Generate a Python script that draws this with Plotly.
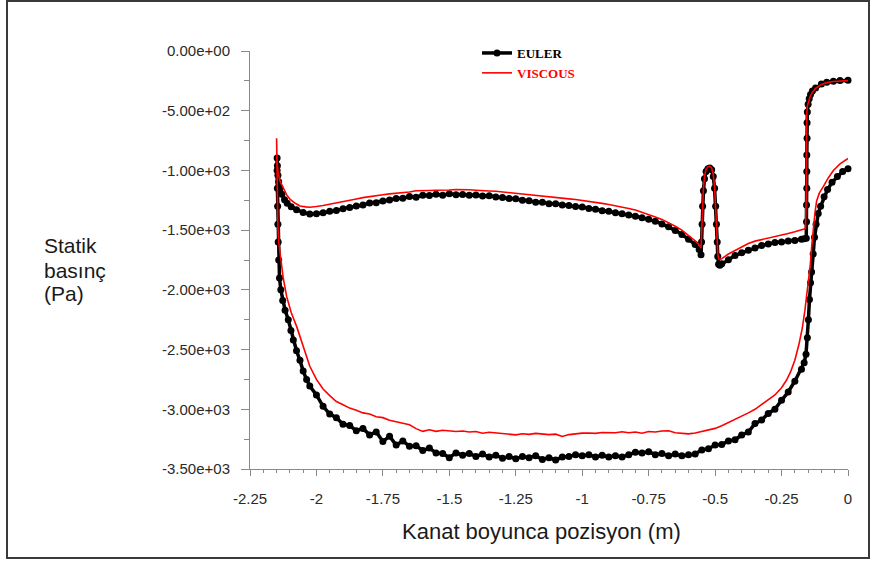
import plotly.graph_objects as go

# ---- axis ticks ----
x_tick_vals = [-2.25, -2.0, -1.75, -1.5, -1.25, -1.0, -0.75, -0.5, -0.25, 0.0]
x_tick_labels = ["-2.25", "-2", "-1.75", "-1.5", "-1.25", "-1", "-0.75", "-0.5", "-0.25", "0"]
y_tick_vals = [0, -500, -1000, -1500, -2000, -2500, -3000, -3500]
y_tick_labels = ["0.00e+00", "-5.00e+02", "-1.00e+03", "-1.50e+03",
                 "-2.00e+03", "-2.50e+03", "-3.00e+03", "-3.50e+03"]

# ---- EULER, upper surface (leading edge -> trailing edge) ----
euler_upper_x = [
    -2.148, -2.147, -2.145, -2.142, -2.137, -2.130, -2.120, -2.110, -2.095, -2.075, -2.050, -2.025,
    -2.000, -1.975, -1.950, -1.925, -1.900, -1.875, -1.850, -1.825, -1.800, -1.775,
    -1.750, -1.725, -1.700, -1.675, -1.650, -1.625, -1.600, -1.575, -1.550, -1.525,
    -1.500, -1.475, -1.450, -1.425, -1.400, -1.375, -1.350, -1.325, -1.300, -1.275,
    -1.250, -1.225, -1.200, -1.175, -1.150, -1.125, -1.100, -1.075, -1.050, -1.025,
    -1.000, -0.975, -0.950, -0.925, -0.900, -0.875, -0.850, -0.825, -0.800, -0.775,
    -0.750, -0.725, -0.700, -0.675, -0.650, -0.625, -0.600, -0.575,
    -0.560, -0.553, -0.551, -0.549, -0.547, -0.544, -0.540, -0.534, -0.527, -0.520,
    -0.513, -0.507, -0.502, -0.498, -0.495, -0.492, -0.490, -0.487, -0.482,
    -0.475, -0.450, -0.425, -0.400, -0.375, -0.350, -0.325, -0.300, -0.275, -0.250,
    -0.225, -0.200, -0.175, -0.165, -0.157,
    -0.156, -0.156, -0.155, -0.155, -0.155, -0.154, -0.154, -0.153, -0.150, -0.146,
    -0.141, -0.134, -0.122, -0.100, -0.080, -0.055, -0.030, 0.000,
]
euler_upper_y = [
    -896, -960, -1040, -1095, -1150, -1200, -1245, -1275, -1305, -1330, -1352, -1365,
    -1362, -1354, -1342, -1336, -1320, -1311, -1298, -1290, -1272, -1270,
    -1256, -1248, -1236, -1234, -1218, -1224, -1208, -1210, -1200, -1208,
    -1196, -1204, -1202, -1208, -1206, -1214, -1212, -1222, -1226, -1236,
    -1238, -1250, -1254, -1266, -1266, -1278, -1280, -1290, -1294, -1303,
    -1306, -1318, -1326, -1338, -1342, -1354, -1362, -1374, -1384, -1396,
    -1408, -1426, -1448, -1472, -1502, -1536, -1576, -1620,
    -1662, -1705, -1600, -1450, -1300, -1170, -1070, -1010, -985, -980,
    -995, -1050, -1150, -1300, -1450, -1600, -1720, -1785, -1795,
    -1782, -1748, -1712, -1690, -1668, -1650, -1628, -1616, -1604, -1600,
    -1590, -1586, -1576, -1572, -1568,
    -1430, -1290, -1150, -1010, -870, -730, -600, -510, -445, -400,
    -365, -335, -310, -277, -262, -253, -248, -244,
]

# ---- EULER, lower surface (leading edge -> trailing edge) ----
euler_lower_x = [
    -2.148, -2.148, -2.147, -2.146, -2.145, -2.144, -2.142, -2.139, -2.134, -2.127,
    -2.118, -2.106, -2.096, -2.087, -2.075, -2.062, -2.050, -2.037,
    -2.025, -2.000, -1.975, -1.950, -1.925, -1.900, -1.875, -1.850, -1.825, -1.800,
    -1.775, -1.750, -1.725, -1.700, -1.675, -1.650, -1.625, -1.600, -1.575, -1.550,
    -1.525, -1.500, -1.475, -1.450, -1.425, -1.400, -1.375, -1.350, -1.325, -1.300,
    -1.275, -1.250, -1.225, -1.200, -1.175, -1.150, -1.125, -1.100, -1.075, -1.050,
    -1.025, -1.000, -0.975, -0.950, -0.925, -0.900, -0.875, -0.850, -0.825, -0.800,
    -0.775, -0.750, -0.725, -0.700, -0.675, -0.650, -0.625, -0.600, -0.575, -0.550,
    -0.525, -0.500, -0.475, -0.450, -0.425, -0.400, -0.375, -0.350, -0.325, -0.300,
    -0.275, -0.250, -0.225, -0.200, -0.175,
    -0.165, -0.158, -0.153, -0.149, -0.145, -0.141, -0.137, -0.131, -0.126, -0.120,
    -0.112, -0.103, -0.090, -0.077, -0.060, -0.040, -0.020, 0.000,
]
euler_lower_y = [
    -896, -1000, -1150, -1300, -1450, -1600, -1750, -1900, -2000, -2090,
    -2170, -2250, -2340, -2420, -2510, -2590, -2680, -2750,
    -2805, -2880, -2975, -3040, -3070, -3125, -3135, -3180, -3160, -3215,
    -3190, -3270, -3225, -3300, -3265, -3310, -3305, -3345, -3325, -3365,
    -3370, -3405, -3365, -3385, -3370, -3395, -3375, -3400, -3385, -3410,
    -3395, -3415, -3395, -3405, -3390, -3420, -3405, -3425, -3400, -3395,
    -3380, -3390, -3380, -3400, -3385, -3400, -3390, -3400, -3380, -3360,
    -3365, -3355, -3380, -3370, -3390, -3375, -3390, -3380, -3375, -3340,
    -3330, -3300, -3295, -3265, -3255, -3215, -3190, -3120, -3090, -3035,
    -3000, -2925, -2855, -2765, -2665,
    -2610, -2540, -2400, -2250, -2080, -1940, -1850, -1700, -1560, -1450,
    -1360, -1300, -1220, -1160, -1100, -1050, -1010, -985,
]

# ---- VISCOUS, upper surface ----
viscous_upper_x = [
    -2.150, -2.149, -2.147, -2.143, -2.137, -2.125, -2.112, -2.100, -2.080, -2.062, -2.040, -2.025,
    -2.000, -1.975, -1.950, -1.925, -1.900, -1.875, -1.850, -1.825, -1.800, -1.775,
    -1.750, -1.725, -1.700, -1.675, -1.650, -1.625, -1.600, -1.575, -1.550, -1.525,
    -1.500, -1.475, -1.450, -1.425, -1.400, -1.375, -1.350, -1.325, -1.300, -1.275,
    -1.250, -1.225, -1.200, -1.175, -1.150, -1.125, -1.100, -1.075, -1.050, -1.025,
    -1.000, -0.975, -0.950, -0.925, -0.900, -0.875, -0.850, -0.825, -0.800, -0.775,
    -0.750, -0.725, -0.700, -0.675, -0.650, -0.625, -0.600, -0.575,
    -0.560, -0.553, -0.551, -0.549, -0.547, -0.544, -0.540, -0.534, -0.527, -0.520,
    -0.513, -0.507, -0.502, -0.498, -0.495, -0.492, -0.490, -0.487, -0.480,
    -0.475, -0.450, -0.425, -0.400, -0.375, -0.350, -0.325, -0.300, -0.275, -0.250,
    -0.225, -0.200, -0.175, -0.165, -0.160,
    -0.158, -0.157, -0.157, -0.156, -0.155, -0.153, -0.149, -0.143, -0.134, -0.122,
    -0.100, -0.080, -0.055, -0.030, 0.000,
]
viscous_upper_y = [
    -731, -850, -960, -1030, -1090, -1150, -1205, -1240, -1275, -1298, -1305, -1308,
    -1302, -1294, -1285, -1276, -1264, -1252, -1240, -1228, -1216, -1210,
    -1203, -1196, -1190, -1184, -1181, -1170, -1172, -1168, -1166, -1162,
    -1164, -1160, -1158, -1162, -1166, -1166, -1172, -1174, -1177, -1186,
    -1192, -1198, -1204, -1210, -1215, -1224, -1226, -1232, -1238, -1244,
    -1250, -1255, -1268, -1276, -1285, -1294, -1305, -1318, -1332, -1350,
    -1370, -1390, -1410, -1436, -1468, -1500, -1545, -1590,
    -1625, -1650, -1560, -1420, -1280, -1150, -1050, -990, -968, -965,
    -980, -1035, -1140, -1290, -1440, -1590, -1700, -1740, -1745,
    -1738, -1700, -1668, -1640, -1612, -1592, -1578, -1565, -1550, -1540,
    -1528, -1514, -1498, -1490, -1484,
    -1470, -1200, -900, -650, -530, -460, -420, -385, -345, -312,
    -280, -265, -256, -251, -248,
]

# ---- VISCOUS, lower surface ----
viscous_lower_x = [
    -2.150, -2.149, -2.148, -2.147, -2.145, -2.141, -2.137, -2.125, -2.112, -2.095, -2.074, -2.050,
    -2.025, -2.000, -1.975, -1.950, -1.925, -1.900, -1.875, -1.850, -1.825, -1.800,
    -1.775, -1.750, -1.725, -1.700, -1.675, -1.650, -1.625, -1.600, -1.575, -1.550,
    -1.525, -1.500, -1.475, -1.450, -1.425, -1.400, -1.375, -1.350, -1.325, -1.300,
    -1.275, -1.250, -1.225, -1.200, -1.175, -1.150, -1.125, -1.100, -1.075, -1.050,
    -1.025, -1.000, -0.975, -0.950, -0.925, -0.900, -0.875, -0.850, -0.825, -0.800,
    -0.775, -0.750, -0.725, -0.700, -0.675, -0.650, -0.625, -0.600, -0.575, -0.550,
    -0.525, -0.500, -0.475, -0.450, -0.425, -0.400, -0.375, -0.350, -0.325, -0.300,
    -0.275, -0.250,
    -0.231, -0.215, -0.200, -0.185, -0.172, -0.162, -0.155, -0.148, -0.142, -0.136,
    -0.130, -0.124, -0.118, -0.108, -0.093, -0.075, -0.055, -0.030, 0.000,
]
viscous_lower_y = [
    -731, -900, -1100, -1300, -1480, -1620, -1700, -1900, -2057, -2190, -2310, -2480,
    -2640, -2750, -2830, -2885, -2935, -2962, -2990, -3008, -3030, -3040,
    -3062, -3070, -3092, -3105, -3118, -3130, -3162, -3185, -3172, -3185,
    -3176, -3180, -3186, -3182, -3190, -3186, -3200, -3192, -3198, -3205,
    -3210, -3214, -3205, -3210, -3202, -3206, -3212, -3208, -3228, -3212,
    -3204, -3200, -3198, -3202, -3195, -3198, -3196, -3188, -3196, -3190,
    -3200, -3186, -3190, -3182, -3180, -3196, -3204, -3206, -3198, -3186,
    -3172, -3160, -3138, -3112, -3085, -3060, -3030, -3000, -2960, -2925,
    -2880, -2820,
    -2755, -2680, -2590, -2460, -2320, -2170, -2040, -1920, -1790, -1620,
    -1470, -1350, -1255, -1190, -1136, -1065, -1000, -945, -900,
]

# each surface is traced as one closed path: trailing edge (upper) -> leading edge -> trailing edge (lower)
euler_x = euler_upper_x[::-1] + euler_lower_x[1:]
euler_y = euler_upper_y[::-1] + euler_lower_y[1:]
viscous_x = viscous_upper_x[::-1] + viscous_lower_x[1:]
viscous_y = viscous_upper_y[::-1] + viscous_lower_y[1:]

fig = go.Figure()
fig.add_trace(go.Scatter(
    x=euler_x, y=euler_y, mode="lines+markers", name="<b>EULER</b>",
    line=dict(color="black", width=3.5),
    marker=dict(color="black", size=7, symbol="circle"),
    cliponaxis=False,
))
fig.add_trace(go.Scatter(
    x=viscous_x, y=viscous_y, mode="lines",
    name='<b><span style="color:#ff0000">VISCOUS</span></b>',
    line=dict(color="#ff0000", width=1.6),
    cliponaxis=False,
))

axis_grey = "#8a8a8a"
tick_font = dict(family="Liberation Sans, Arial, sans-serif", size=15, color="#2a2a2a")
title_font = dict(family="Liberation Sans, Arial, sans-serif", size=21, color="#1a1a1a")

fig.update_xaxes(
    range=[-2.25, 0], tickmode="array", tickvals=x_tick_vals, ticktext=x_tick_labels,
    ticks="outside", ticklen=6, tickwidth=1, tickcolor=axis_grey,
    showline=True, linecolor=axis_grey, linewidth=1,
    showgrid=False, zeroline=False, tickfont=tick_font, ticklabelstandoff=10,
    minor=dict(dtick=0.05, tick0=0, ticks="outside", ticklen=3, tickcolor=axis_grey, showgrid=False),
)
fig.update_yaxes(
    range=[-3500, 0], tickmode="array", tickvals=y_tick_vals, ticktext=y_tick_labels,
    ticks="outside", ticklen=8, tickwidth=1, tickcolor=axis_grey,
    showline=True, linecolor=axis_grey, linewidth=1,
    showgrid=False, zeroline=False, tickfont=tick_font, ticklabelstandoff=8,
    minor=dict(dtick=250, tick0=0, ticks="outside", ticklen=5, tickcolor=axis_grey, showgrid=False),
)

# plot area in pixels: x 250..848, y 51..469
def px_x(px):
    return (px - 250) / 598.0

def px_y(py):
    return (469 - py) / 418.0

annotations = [
    dict(text="Kanat boyunca pozisyon (m)", x=px_x(541), y=px_y(531), xref="paper", yref="paper",
         xanchor="center", yanchor="middle", showarrow=False,
         font=dict(family="Liberation Sans, Arial, sans-serif", size=22, color="#1a1a1a")),
]
for line_text, cy in [("Statik", 245), ("basınç", 270), ("(Pa)", 293)]:
    annotations.append(dict(text=line_text, x=px_x(42), y=px_y(cy), xref="paper", yref="paper",
                            xanchor="left", yanchor="middle", showarrow=False, font=title_font))

fig.update_layout(
    width=870, height=562,
    margin=dict(l=250, r=22, t=51, b=93, autoexpand=False),
    paper_bgcolor="white", plot_bgcolor="white",
    showlegend=True,
    legend=dict(
        x=px_x(477), y=px_y(38), xanchor="left", yanchor="top",
        font=dict(family="Liberation Serif, Times New Roman, serif", size=13, color="black"),
        bgcolor="rgba(0,0,0,0)", borderwidth=0,
    ),
    annotations=annotations,
    shapes=[dict(type="rect", xref="paper", yref="paper",
                 x0=px_x(7), x1=px_x(869), y0=px_y(558), y1=px_y(1),
                 line=dict(color="#3a3a3a", width=2), fillcolor="rgba(0,0,0,0)")],
)

fig.write_html("out.html", config={"displayModeBar": False})
